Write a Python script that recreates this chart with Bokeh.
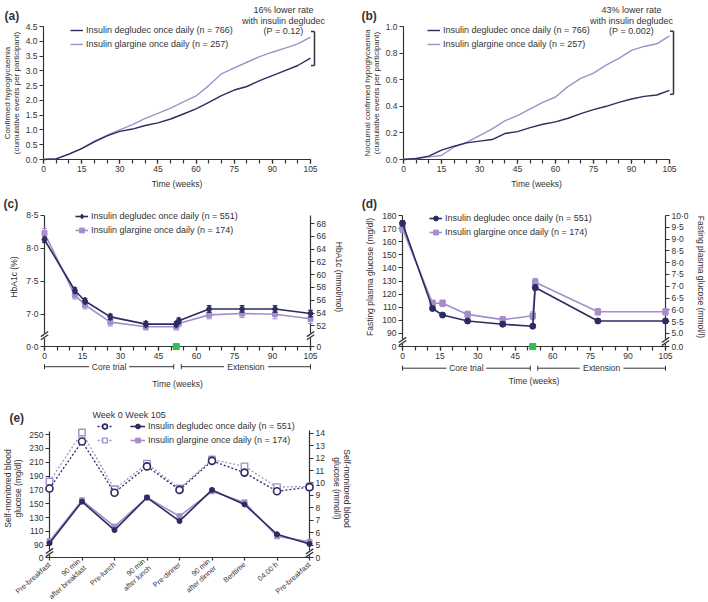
import math
from bokeh.plotting import figure
from bokeh.models import (Range1d, LinearAxis, FixedTicker, Legend, LegendItem,
                          NumeralTickFormatter)
from bokeh.core.properties import value
from bokeh.layouts import column, row
from bokeh.embed import file_html
from bokeh.resources import INLINE

DARK = "#2b2c61"
LIGHT = "#a68dcb"
INK = "#333333"
GREEN = "#2fbf52"
FONT = "Liberation Sans"
FS = "8.5px"
FL = "9px"

# ---------------- data ----------------
weeks_ab = list(range(0, 106, 5))
a_degludec = [0, 0.02, 0.18, 0.37, 0.6, 0.8, 0.95, 1.03, 1.15, 1.24, 1.37, 1.54, 1.71,
              1.93, 2.16, 2.35, 2.47, 2.67, 2.84, 3.01, 3.18, 3.43]
a_glargine = [0, 0.03, 0.18, 0.37, 0.62, 0.82, 1.0, 1.18, 1.39, 1.56, 1.74, 1.95, 2.15,
              2.5, 2.9, 3.1, 3.29, 3.48, 3.63, 3.77, 3.91, 4.14]
b_degludec = [0, 0.008, 0.025, 0.07, 0.10, 0.125, 0.138, 0.15, 0.195, 0.21, 0.24, 0.265,
              0.283, 0.31, 0.345, 0.375, 0.40, 0.43, 0.455, 0.475, 0.485, 0.52]
b_glargine = [0, 0.005, 0.02, 0.03, 0.095, 0.13, 0.18, 0.23, 0.29, 0.33, 0.38, 0.43,
              0.47, 0.55, 0.61, 0.65, 0.71, 0.76, 0.82, 0.85, 0.87, 0.93]
a_bracket = [3.18, 4.33]
b_bracket = [0.49, 0.965]
a_note = ["16% lower rate", "with insulin degludec", "(P = 0.12)"]
b_note = ["43% lower rate", "with insulin degludec", "(P = 0.002)"]

c_weeks = [0, 12, 16, 26, 40, 52, 53, 65, 78, 91, 105]
c_degludec = [8.13, 7.36, 7.20, 6.96, 6.85, 6.85, 6.90, 7.08, 7.08, 7.08, 7.01]
c_glargine = [8.23, 7.29, 7.14, 6.88, 6.81, 6.81, 6.86, 6.99, 7.01, 7.00, 6.93]
c_degludec_se = [0.04, 0.04, 0.04, 0.04, 0.04, 0.04, 0.04, 0.05, 0.05, 0.05, 0.05]
c_glargine_se = [0.07, 0.06, 0.06, 0.06, 0.05, 0.05, 0.05, 0.06, 0.06, 0.07, 0.07]

d_weeks = [0, 12, 16, 26, 40, 52, 53, 78, 105]
d_degludec = [174, 109, 104, 99.5, 97, 95.5, 125, 99.5, 99.5]
d_glargine = [170, 113, 113, 104.5, 100.5, 103.5, 129, 106.5, 106.5]
d_degludec_se = [2, 1.5, 1.5, 1.5, 1.5, 1.5, 2, 1.5, 1.5]
d_glargine_se = [3, 2.5, 2.5, 2.5, 2.5, 3, 3, 2.5, 2.5]

phase_names = ["Core trial", "Extension"]
phase_start = [0, 54]
phase_end = [51, 105]
core_end_week = [52]

e_labels = ["Pre-breakfast", "90 min\nafter breakfast", "Pre-lunch", "90 min\nafter lunch",
            "Pre-dinner", "90 min\nafter dinner", "Bedtime", "04.00 h", "Pre-breakfast"]
e_degludec_w0 = [172, 240, 166, 204, 170, 212, 195, 168, 174]
e_glargine_w0 = [182, 253, 171, 208, 172, 214, 204, 174, 175]
e_degludec_w105 = [93, 153, 112, 159, 125, 170, 149, 106, 92]
e_glargine_w105 = [96, 155, 117, 159, 132, 168, 152, 103, 95]

MG_PER_MMOL = 18.0


# ---------------- helpers ----------------
class Frame:
    def __init__(self, xr, yr, fw, fh):
        self.xr, self.yr, self.fw, self.fh = xr, yr, fw, fh

    def dx(self, px):
        return px * (self.xr[1] - self.xr[0]) / self.fw

    def dy(self, px):
        return px * (self.yr[1] - self.yr[0]) / self.fh

    def x(self, px):
        return self.xr[0] + self.dx(px)

    def y(self, px):
        return self.yr[0] + self.dy(px)


def make_fig(w, h, xr, yr, l, r, t, b):
    p = figure(width=w, height=h, x_range=Range1d(*xr), y_range=Range1d(*yr),
               output_backend="svg", toolbar_location=None,
               min_border_left=l, min_border_right=r, min_border_top=t, min_border_bottom=b)
    p.outline_line_color = None
    p.xgrid.visible = False
    p.ygrid.visible = False
    p.background_fill_color = "white"
    p.border_fill_color = "white"
    return p


def style(ax, minor=True):
    ax.axis_line_color = INK
    ax.axis_line_width = 1.2
    ax.major_tick_line_color = INK
    ax.major_tick_line_width = 1.2
    ax.major_tick_in = 0
    ax.major_tick_out = 4
    if minor:
        ax.minor_tick_line_color = INK
        ax.minor_tick_line_width = 1.2
        ax.minor_tick_in = 0
        ax.minor_tick_out = 4
    else:
        ax.minor_tick_line_color = None
    ax.major_label_text_font = FONT
    ax.major_label_text_font_size = FS
    ax.major_label_text_color = INK
    ax.major_label_standoff = 2
    ax.axis_label_text_font = FONT
    ax.axis_label_text_font_size = FS
    ax.axis_label_text_font_style = "normal"
    ax.axis_label_text_color = INK
    ax.axis_label_standoff = 3
    ax.axis_label_text_line_height = 1.0


def weeks_axis(p, standoff):
    ax = p.xaxis[0]
    ax.ticker = FixedTicker(ticks=list(range(0, 106, 15)), minor_ticks=list(range(0, 106, 5)))
    style(ax)
    ax.axis_label = "Time (weeks)"
    ax.axis_label_standoff = standoff


def txt(p, x, y, text, size=FL, align="left", bold=False):
    p.text(x=[x], y=[y], text=[text], text_font=value(FONT), text_font_size=value(size),
           text_color=INK, text_align=align, text_baseline="middle",
           text_font_style="bold" if bold else "normal", level="overlay")


def axis_break(p, fr, x, ypx):
    ys = [fr.y(ypx - 1.6), fr.y(ypx + 1.6)]
    p.scatter(x=[x], y=[fr.y(ypx)], marker="square", size=5, fill_color="white",
              line_color=None, level="overlay")
    p.scatter(x=[x, x], y=ys, marker="dash", size=9, angle=0.6, line_color=INK,
              line_width=1.3, level="overlay")


def ebars(p, xs, ys, es, color):
    lo = [y - e for y, e in zip(ys, es)]
    hi = [y + e for y, e in zip(ys, es)]
    p.segment(x0=xs, y0=lo, x1=xs, y1=hi, line_color=color, line_width=1, level="overlay")
    p.scatter(x=list(xs) + list(xs), y=lo + hi, marker="dash", size=5, line_color=color,
              line_width=1, level="overlay")


def legend(p, items, loc, gw=13):
    lg = Legend(items=items, location=loc, label_text_font=FONT, label_text_font_size=FL,
                label_text_color=INK, glyph_width=gw, glyph_height=12, label_height=12,
                label_standoff=3, spacing=2, padding=0, margin=0, border_line_color=None,
                background_fill_alpha=0)
    p.add_layout(lg)
    return lg


def bracket(p, fr, xpx, lo, hi):
    xb = fr.x(xpx)
    xt = fr.x(xpx - 3.5)
    p.segment(x0=[xb, xt, xt], y0=[lo, lo, hi], x1=[xb, xb, xb], y1=[hi, lo, hi],
              line_color=INK, line_width=1.5, level="overlay")


def phases(p, fr, ypx):
    y = fr.y(-ypx)
    cap = fr.dy(2.5)
    gaps = [20, 22]
    x0s, x1s = [], []
    for s, e, name, g in zip(phase_start, phase_end, phase_names, gaps):
        mid = (s + e) / 2
        x0s += [s, mid + fr.dx(g)]
        x1s += [mid - fr.dx(g), e]
        txt(p, mid, y, name, size=FS, align="center")
    p.segment(x0=x0s, y0=[y] * 4, x1=x1s, y1=[y] * 4, line_color=INK,
              line_width=1, level="overlay")
    ends = phase_start + phase_end
    p.segment(x0=ends, y0=[y - cap] * 4, x1=ends, y1=[y + cap] * 4, line_color=INK,
              line_width=1, level="overlay")


# ---------------- (a) ----------------
A_X, A_Y = (0, 105), (0, 4.5)
pa = make_fig(354, 194, A_X, A_Y, 43, 44, 26, 35)
fa = Frame(A_X, A_Y, 267, 133)
ga = pa.line(weeks_ab, a_glargine, line_color=LIGHT, line_width=1.4, level="overlay")
da = pa.line(weeks_ab, a_degludec, line_color=DARK, line_width=1.4, level="overlay")
weeks_axis(pa, 4)
ya = pa.yaxis[0]
style(ya, minor=False)
ya.ticker = FixedTicker(ticks=[i * 0.5 for i in range(10)], minor_ticks=[])
ya.formatter = NumeralTickFormatter(format="0.0")
ya.axis_label = "Confirmed hypoglycaemia\n(cumulative events per participant)"
ya.axis_label_text_font_size = "8px"
ya.axis_label_text_line_height = 0.95
ya.axis_label_standoff = 2
legend(pa, [LegendItem(label="Insulin degludec once daily (n = 766)", renderers=[da]),
            LegendItem(label="Insulin glargine once daily (n = 257)", renderers=[ga])], (27, 109))
for t, ypx in zip(a_note, [149.5, 139, 128.5]):
    txt(pa, fa.x(240), fa.y(ypx), t, align="center")
bracket(pa, fa, 271, *a_bracket)
txt(pa, fa.x(-39), fa.y(144), "(a)", size="12px", bold=True)

# ---------------- (b) ----------------
B_X, B_Y = (0, 105), (0, 1.0)
pb = make_fig(354, 194, B_X, B_Y, 49, 39, 26, 35)
fb = Frame(B_X, B_Y, 266, 133)
gb = pb.line(weeks_ab, b_glargine, line_color=LIGHT, line_width=1.4, level="overlay")
db = pb.line(weeks_ab, b_degludec, line_color=DARK, line_width=1.4, level="overlay")
weeks_axis(pb, 4)
yb = pb.yaxis[0]
style(yb, minor=False)
yb.ticker = FixedTicker(ticks=[round(i * 0.2, 1) for i in range(6)], minor_ticks=[])
yb.formatter = NumeralTickFormatter(format="0.0")
yb.axis_label = "Nocturnal confirmed hypoglycaemia\n(cumulative events per participant)"
yb.axis_label_text_font_size = "8px"
yb.axis_label_text_line_height = 0.95
yb.axis_label_standoff = 2
legend(pb, [LegendItem(label="Insulin degludec once daily (n = 766)", renderers=[db]),
            LegendItem(label="Insulin glargine once daily (n = 257)", renderers=[gb])], (24, 109.5))
for t, ypx in zip(b_note, [149.7, 139, 129]):
    txt(pb, fb.x(228), fb.y(ypx), t, align="center")
bracket(pb, fb, 270, *b_bracket)
txt(pb, fb.x(-42), fb.y(144), "(b)", size="12px", bold=True)

# ---------------- (c) ----------------
C_BREAK = 6.51
C_TOP = 8.5
C_PX_PER_UNIT = 133 / (C_TOP - C_BREAK)
C_X = (0, 105)
C_Y = (C_BREAK, C_BREAK + 141 / C_PX_PER_UNIT)


def c_mmol(v):
    # right-axis (mmol/mol) placement as drawn in the source figure
    return 68 + (8.3 - (8.5 - v) * 66.67) / 6.4625


pc = make_fig(354, 206, C_X, C_Y, 44, 44, 13, 52)
fc = Frame(C_X, C_Y, 266, 141)
pc.extra_y_ranges = {"mmol": Range1d(c_mmol(C_Y[0]), c_mmol(C_Y[1]))}
lc_g = pc.line(c_weeks, c_glargine, line_color=LIGHT, line_width=1.6, level="overlay")
ebars(pc, c_weeks, c_glargine, c_glargine_se, LIGHT)
sc_g = pc.scatter(c_weeks, c_glargine, marker="square", size=5, color=LIGHT, level="overlay")
lc_d = pc.line(c_weeks, c_degludec, line_color=DARK, line_width=1.6, level="overlay")
ebars(pc, c_weeks, c_degludec, c_degludec_se, DARK)
sc_d = pc.scatter(c_weeks, c_degludec, marker="diamond", size=8, color=DARK, level="overlay")
pc.scatter(core_end_week, [C_BREAK], marker="square", size=6, color=GREEN, level="overlay")
weeks_axis(pc, 17)
yc = pc.yaxis[0]
style(yc, minor=False)
c_left_ticks = [C_BREAK, 7.0, 7.5, 8.0, 8.5]
yc.ticker = FixedTicker(ticks=c_left_ticks, minor_ticks=[])
yc.major_label_overrides = {C_BREAK: "0·0", 7.0: "7·0", 7.5: "7·5", 8.0: "8·0", 8.5: "8·5"}
yc.bounds = (C_BREAK, C_TOP)
yc.axis_label = "HbA1c (%)"
yc.axis_label_standoff = 4
rc = LinearAxis(y_range_name="mmol")
style(rc, minor=False)
c_right_ticks = [c_mmol(C_BREAK)] + list(range(52, 69, 2))
rc.ticker = FixedTicker(ticks=c_right_ticks, minor_ticks=[])
rc.major_label_overrides = {c_mmol(C_BREAK): "0"}
rc.bounds = (c_mmol(C_BREAK), c_mmol(C_TOP))
rc.axis_label = "HbA1c (mmol/mol)"
rc.axis_label_standoff = 5
pc.add_layout(rc, "right")
legend(pc, [LegendItem(label="Insulin degludec once daily (n = 551)", renderers=[lc_d, sc_d]),
            LegendItem(label="Insulin glargine once daily (n = 174)", renderers=[lc_g, sc_g])],
       (31, 110))
axis_break(pc, fc, C_X[0], 11)
axis_break(pc, fc, C_X[1], 11)
phases(pc, fc, 20.5)
txt(pc, fc.x(-41), fc.y(144.7), "(c)", size="12px", bold=True)

# ---------------- (d) ----------------
D_BREAK = 80
D_TOP = 180
D_PX_PER_UNIT = 131 / (D_TOP - D_BREAK)
D_X = (0, 105)
D_Y = (D_BREAK, D_BREAK + 139 / D_PX_PER_UNIT)
pd_ = make_fig(354, 206, D_X, D_Y, 48, 42, 13, 54)
fd = Frame(D_X, D_Y, 264, 139)
pd_.extra_y_ranges = {"mmol": Range1d(D_Y[0] / MG_PER_MMOL, D_Y[1] / MG_PER_MMOL)}
ld_g = pd_.line(d_weeks, d_glargine, line_color=LIGHT, line_width=1.6, level="overlay")
ebars(pd_, d_weeks, d_glargine, d_glargine_se, LIGHT)
sd_g = pd_.scatter(d_weeks, d_glargine, marker="square", size=5.5, color=LIGHT, level="overlay")
ld_d = pd_.line(d_weeks, d_degludec, line_color=DARK, line_width=1.6, level="overlay")
ebars(pd_, d_weeks, d_degludec, d_degludec_se, DARK)
sd_d = pd_.scatter(d_weeks, d_degludec, marker="circle", size=6, color=DARK, level="overlay")
pd_.scatter(core_end_week, [D_BREAK], marker="square", size=6, color=GREEN, level="overlay")
weeks_axis(pd_, 14)
yd = pd_.yaxis[0]
style(yd, minor=False)
d_left_ticks = [D_BREAK] + list(range(90, 181, 10))
yd.ticker = FixedTicker(ticks=d_left_ticks, minor_ticks=[])
yd.major_label_overrides = {D_BREAK: "0"}
yd.bounds = (D_BREAK, D_TOP)
yd.axis_label = "Fasting plasma glucose (mg/dl)"
yd.axis_label_standoff = 4
rd = LinearAxis(y_range_name="mmol")
style(rd, minor=False)
d_right_ticks = [D_BREAK / MG_PER_MMOL] + [5.0 + 0.5 * i for i in range(11)]
rd.ticker = FixedTicker(ticks=d_right_ticks, minor_ticks=[])
d_over = {D_BREAK / MG_PER_MMOL: "0.0", 5.0: "5.0"}
for v in d_right_ticks[2:]:
    d_over[v] = ("%.1f" % v).replace(".", "·")
rd.major_label_overrides = d_over
rd.bounds = (D_BREAK / MG_PER_MMOL, D_TOP / MG_PER_MMOL)
rd.axis_label = "Fasting plasma glucose (mmol/l)"
rd.axis_label_standoff = 4
pd_.add_layout(rd, "right")
legend(pd_, [LegendItem(label="Insulin degludec once daily (n = 551)", renderers=[ld_d, sd_d]),
             LegendItem(label="Insulin glargine once daily (n = 174)", renderers=[ld_g, sd_g])],
       (27, 108))
axis_break(pd_, fd, D_X[0], 5)
axis_break(pd_, fd, D_X[1], 5)
phases(pd_, fd, 21.7)
txt(pd_, fd.x(-41), fd.y(143), "(d)", size="12px", bold=True)

# ---------------- (e) ----------------
E_BREAK = 72.4
E_TOP = 255
E_X, E_Y = (0, 8), (E_BREAK, 271.7)
pe = make_fig(354, 202, E_X, E_Y, 44, 44, 19, 45)
fe = Frame(E_X, E_Y, 266, 138)
pe.extra_y_ranges = {"mmol": Range1d(E_Y[0] / MG_PER_MMOL, E_Y[1] / MG_PER_MMOL)}
xs = list(range(len(e_labels)))
l0g = pe.line(xs, e_glargine_w0, line_color=LIGHT, line_width=1.3, line_dash="2 2",
              level="overlay")
s0g = pe.scatter(xs, e_glargine_w0, marker="square", size=6.5, fill_color="white",
                 line_color=LIGHT, line_width=1.4, level="overlay")
l0d = pe.line(xs, e_degludec_w0, line_color=DARK, line_width=1.3, line_dash="2 2",
              level="overlay")
s0d = pe.scatter(xs, e_degludec_w0, marker="circle", size=7, fill_color="white",
                 line_color=DARK, line_width=1.6, level="overlay")
l1g = pe.line(xs, e_glargine_w105, line_color=LIGHT, line_width=1.6, level="overlay")
s1g = pe.scatter(xs, e_glargine_w105, marker="square", size=5, color=LIGHT, level="overlay")
l1d = pe.line(xs, e_degludec_w105, line_color=DARK, line_width=1.6, level="overlay")
s1d = pe.scatter(xs, e_degludec_w105, marker="circle", size=5, color=DARK, level="overlay")
xe = pe.xaxis[0]
style(xe, minor=False)
xe.ticker = FixedTicker(ticks=xs, minor_ticks=[])
# category names are drawn rotated beneath the ticks (below), so the axis keeps its ticks only
xe.major_label_overrides = {i: "" for i in xs}
xe.major_label_text_font_size = "1px"
xe.major_label_standoff = 0
xe.major_tick_out = 3
pe.text(x=xs, y=[fe.y(-6)] * len(xs), text=e_labels, angle=0.72,
        text_align="right", text_baseline="middle", text_font=value(FONT),
        text_font_size=value("7.3px"), text_line_height=1.0, text_color=INK, level="overlay")
ye = pe.yaxis[0]
style(ye, minor=False)
e_left_ticks = [E_BREAK] + list(range(90, 251, 20))
ye.ticker = FixedTicker(ticks=e_left_ticks, minor_ticks=[])
ye.major_label_overrides = {E_BREAK: "0"}
ye.bounds = (E_BREAK, E_TOP)
ye.axis_label = "Self-monitored blood\nglucose (mg/dl)"
ye.axis_label_standoff = 3
re_ = LinearAxis(y_range_name="mmol")
style(re_, minor=False)
e_right_ticks = [E_BREAK / MG_PER_MMOL] + list(range(5, 15))
re_.ticker = FixedTicker(ticks=e_right_ticks, minor_ticks=[])
re_.major_label_overrides = {E_BREAK / MG_PER_MMOL: "0"}
re_.bounds = (E_BREAK / MG_PER_MMOL, 14.25)
re_.axis_label = "Self-monitored blood\nglucose (mmol/l)"
re_.axis_label_standoff = 4
pe.add_layout(re_, "right")
legend(pe, [LegendItem(label=" ", renderers=[l0d, s0d]),
            LegendItem(label=" ", renderers=[l0g, s0g])], (48, 111), gw=15)
legend(pe, [LegendItem(label="Insulin degludec once daily (n = 551)", renderers=[l1d, s1d]),
            LegendItem(label="Insulin glargine once daily (n = 174)", renderers=[l1g, s1g])],
       (81, 111), gw=15)
txt(pe, fe.x(44), fe.y(143), "Week 0  Week 105")
axis_break(pe, fe, E_X[0], 5)
axis_break(pe, fe, E_X[1], 4.5)
txt(pe, fe.x(-41), fe.y(140), "(e)", size="12px", bold=True)

layout = column(row(pa, pb), row(pc, pd_), pe)
open("out.html", "w").write(file_html(layout, INLINE))
